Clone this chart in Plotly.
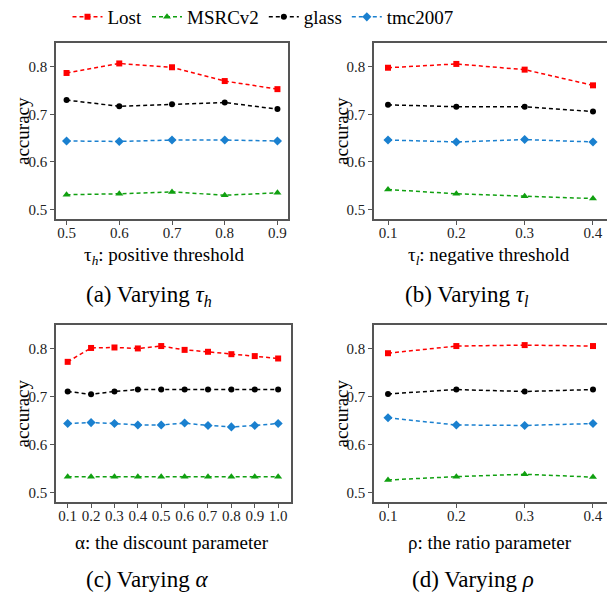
import plotly.graph_objects as go

# ---------------- data ----------------
series_names = ["Lost", "MSRCv2", "glass", "tmc2007"]

x_a = [0.5, 0.6, 0.7, 0.8, 0.9]
a_lost = [0.787, 0.807, 0.799, 0.770, 0.753]
a_msrc = [0.531, 0.533, 0.537, 0.530, 0.535]
a_glass = [0.730, 0.717, 0.721, 0.725, 0.711]
a_tmc = [0.644, 0.643, 0.646, 0.646, 0.644]

x_b = [0.1, 0.2, 0.3, 0.4]
b_lost = [0.798, 0.806, 0.794, 0.761]
b_msrc = [0.542, 0.533, 0.528, 0.523]
b_glass = [0.720, 0.716, 0.716, 0.706]
b_tmc = [0.646, 0.642, 0.647, 0.642]

x_c = [0.1, 0.2, 0.3, 0.4, 0.5, 0.6, 0.7, 0.8, 0.9, 1.0]
c_lost = [0.773, 0.802, 0.803, 0.801, 0.806, 0.798, 0.794, 0.789, 0.785, 0.780]
c_msrc = [0.533, 0.533, 0.533, 0.533, 0.533, 0.533, 0.533, 0.533, 0.533, 0.533]
c_glass = [0.711, 0.705, 0.711, 0.715, 0.715, 0.715, 0.715, 0.715, 0.715, 0.715]
c_tmc = [0.644, 0.646, 0.644, 0.641, 0.641, 0.645, 0.640, 0.637, 0.640, 0.644]

x_d = [0.1, 0.2, 0.3, 0.4]
d_lost = [0.791, 0.806, 0.808, 0.806]
d_msrc = [0.526, 0.533, 0.538, 0.532]
d_glass = [0.706, 0.715, 0.711, 0.715]
d_tmc = [0.656, 0.641, 0.640, 0.644]

y_ticks = [0.5, 0.6, 0.7, 0.8]

x_titles = ["τ<sub><i>h</i></sub>: positive threshold",
            "τ<sub><i>l</i></sub>: negative threshold",
            "α: the discount parameter",
            "ρ: the ratio parameter"]
captions = ["(a) Varying <i>τ<sub>h</sub></i>",
            "(b) Varying <i>τ<sub>l</sub></i>",
            "(c) Varying <i>α</i>",
            "(d) Varying <i>ρ</i>"]

# ---------------- style ----------------
OFF = 8  # default page body margin
W, H = 615 - OFF, 593 - OFF
FONT = "Liberation Serif"
colors = ["#ff0000", "#10a010", "#000000", "#1a80cf"]
symbols = ["square", "triangle-up", "circle", "diamond"]
msizes = [6, 7, 6, 7]


def fx(px):
    return (px - OFF) / W


def fy(py):
    return 1 - (py - OFF) / H


panels = [
    dict(x=x_a, ys=[a_lost, a_msrc, a_glass, a_tmc], xr=[0.48, 0.92], ticks=x_a,
         px=(56, 288), py=(43, 219)),
    dict(x=x_b, ys=[b_lost, b_msrc, b_glass, b_tmc], xr=[0.0795, 0.4205], ticks=x_b,
         px=(374, 607), py=(43, 219)),
    dict(x=x_c, ys=[c_lost, c_msrc, c_glass, c_tmc], xr=[0.05, 1.055], ticks=x_c,
         px=(56, 291), py=(325, 502)),
    dict(x=x_d, ys=[d_lost, d_msrc, d_glass, d_tmc], xr=[0.0795, 0.4205], ticks=x_d,
         px=(374, 607), py=(325, 502)),
]
title_pos = [(164, 256), (489, 256), (172, 542), (490, 542)]
cap_pos = [(149, 296), (467, 296), (147, 579), (473, 579)]
ytitle_x = [22, 341, 22, 341]

fig = go.Figure()
layout = dict(width=W, height=H, margin=dict(l=0, r=0, t=0, b=0, autoexpand=False),
              paper_bgcolor="white", plot_bgcolor="white",
              font=dict(family=FONT, size=15, color="black"),
              showlegend=True,
              legend=dict(orientation="h", x=fx(263), xanchor="center", y=fy(17),
                          yanchor="middle", font=dict(size=19, family=FONT),
                          itemwidth=30, tracegroupgap=0, bgcolor="rgba(0,0,0,0)"))
annotations = []

for i, p in enumerate(panels):
    n = "" if i == 0 else str(i + 1)
    xa = "x" + n
    ya = "y" + n
    for k in range(4):
        fig.add_trace(go.Scatter(
            x=p["x"], y=p["ys"][k], xaxis=xa, yaxis=ya, mode="lines+markers",
            name=series_names[k], showlegend=(i == 0), legendgroup=series_names[k],
            line=dict(color=colors[k], width=1.5, dash="4px,3px"),
            marker=dict(symbol=symbols[k], size=msizes[k], color=colors[k])))
    axcommon = dict(showline=True, mirror=True, linecolor="#555555", linewidth=1.5,
                    ticks="outside", ticklen=4, tickwidth=1, tickcolor="#555555",
                    showgrid=False, zeroline=False,
                    tickfont=dict(size=15, family=FONT, color="#222222"))
    layout["xaxis" + n] = dict(domain=[fx(p["px"][0]), fx(p["px"][1])], range=p["xr"],
                               tickvals=p["ticks"], ticktext=["%.1f" % v for v in p["ticks"]],
                               anchor=ya, ticklabelstandoff=-5, **axcommon)
    layout["yaxis" + n] = dict(domain=[fy(p["py"][1]), fy(p["py"][0])],
                               range=[0.48, 0.85], tickvals=y_ticks,
                               ticktext=["%.1f" % v for v in y_ticks],
                               anchor=xa, **axcommon)
    annotations.append(dict(text=x_titles[i], x=fx(title_pos[i][0]), y=fy(title_pos[i][1]),
                            xref="paper", yref="paper", showarrow=False,
                            xanchor="center", yanchor="middle",
                            font=dict(size=19, family=FONT, color="black")))
    annotations.append(dict(text=captions[i], x=fx(cap_pos[i][0]), y=fy(cap_pos[i][1]),
                            xref="paper", yref="paper", showarrow=False,
                            xanchor="center", yanchor="middle",
                            font=dict(size=23, family=FONT, color="black")))
    yc = (p["py"][0] + p["py"][1]) / 2
    annotations.append(dict(text="accuracy", x=fx(ytitle_x[i]), y=fy(yc),
                            xref="paper", yref="paper", showarrow=False, textangle=-90,
                            xanchor="center", yanchor="middle",
                            font=dict(size=19, family=FONT, color="black")))

layout["annotations"] = annotations
fig.update_layout(**layout)
fig.write_html("out.html")
